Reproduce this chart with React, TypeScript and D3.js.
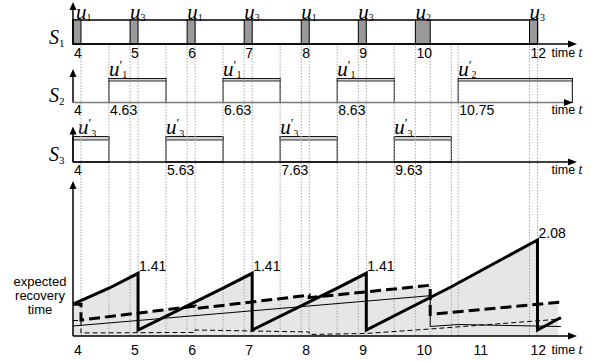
import React from "react";
import * as d3 from "d3";

// schedule rows (times in hours)
const S1_START = [4, 5, 6, 7, 8, 9, 10, 12];
const S1_END = [4.14, 5.14, 6.14, 7.14, 8.14, 9.14, 10.26, 12.14];
const S1_UNIT = ["1", "3", "1", "3", "1", "3", "2", "3"];
const S1_TICKS = [4, 5, 6, 7, 8, 9, 10, 12];

const S2_START = [4.63, 6.63, 8.63, 10.75];
const S2_END = [5.63, 7.63, 9.63, 12.75];
const S2_UNIT = ["1", "1", "1", "2"];
const S2_TICKS = [4, 4.63, 6.63, 8.63, 10.75];

const S3_START = [4, 5.63, 7.63, 9.63];
const S3_END = [4.63, 6.63, 8.63, 10.63];
const S3_UNIT = ["3", "3", "3", "3"];
const S3_TICKS = [4, 5.63, 7.63, 9.63];

const TIME_TICKS = [4, 5, 6, 7, 8, 9, 10, 11, 12];

// expected recovery time curves, [t, value]
const THICK_SOLID = [
  [4, 0.79], [4.63, 1.11], [5.14, 1.41], [5.14, 0.27], [6.63, 1.11], [7.14, 1.41],
  [7.14, 0.27], [8.63, 1.11], [9.14, 1.41], [9.14, 0.27], [10.63, 1.14],
  [12.14, 2.08], [12.14, 0.27], [12.55, 0.52],
];
const THICK_DASHED = [
  [4, 0.79], [4.14, 0.79], [4.14, 0.47], [6.14, 0.75], [6.14, 0.7], [8.14, 0.97],
  [8.14, 0.92], [10.26, 1.17], [10.26, 0.585], [12.55, 0.83],
];
const THIN_SOLID = [[4, 0.35], [10.26, 0.96], [10.26, 0.34], [10.75, 0.38], [12.55, 0.34]];
const THIN_DASHED = [
  [4, 0.46], [4.14, 0.46], [4.14, 0.21], [6.14, 0.22], [6.14, 0.27], [8.14, 0.23],
  [8.14, 0.18], [9.14, 0.2], [10.26, 0.29], [12.55, 0.49],
];
const SHADED = [
  [4, 0.79], [4.63, 1.11], [5.14, 1.41], [5.14, 0.61], [5.93, 0.72], [6.63, 1.11],
  [7.14, 1.41], [7.14, 0.83], [8.14, 0.97], [8.14, 0.92], [8.33, 0.94], [8.63, 1.11],
  [9.14, 1.41], [9.14, 1.04], [10.26, 1.17], [10.26, 0.92], [10.63, 1.14],
  [12.14, 2.08], [12.14, 0.79], [12.5, 0.82],
];
const PEAKS = [[5.14, 1.41], [7.14, 1.41], [9.14, 1.41], [12.14, 2.08]];

const SANS = "'Liberation Sans', Arial, sans-serif";
const SERIF = "'Liberation Serif', 'Times New Roman', serif";

const x = d3.scaleLinear().domain([4, 12]).range([73, 529.5]);
const y = d3.scaleLinear().domain([0, 2.08]).range([343.4, 240]);

const AX_END = 577;
const rows = {
  s1: { top: 20, base: 44, tip: 2, tickY: 57.5 },
  s2: { top: 78.5, band: 81, base: 102.5, tip: 69, tickY: 114.5 },
  s3: { top: 136.5, band: 140, base: 162, tip: 126.5, tickY: 174.5 },
  bot: { base: 336, tip: 181, tickY: 354.5 },
};

const gridTimes = Array.from(
  new Set([...S1_START, ...S1_END, ...S2_START, ...S2_END, ...S3_START, ...S3_END])
).filter(t => t > 4 && t <= 12.14).sort((a, b) => a - b);

const VArrow = ({ top, base, color = "#000" }) => (
  <g>
    <line x1={x(4)} x2={x(4)} y1={base} y2={top + 6} stroke={color} strokeWidth={1.5} />
    <path d={`M${x(4)},${top}L${x(4) - 3.5},${top + 8}L${x(4) + 3.5},${top + 8}Z`} fill={color} />
  </g>
);

const HArrow = ({ base, color = "#000", end = AX_END }) => (
  <g>
    <line x1={x(4)} x2={end - 6} y1={base} y2={base} stroke={color} strokeWidth={1.5} />
    <path d={`M${end},${base}L${end - 9},${base - 3.5}L${end - 9},${base + 3.5}Z`} fill="#000" />
  </g>
);

const TimeLabel = ({ yy }) => (
  <text x={551.5} y={yy} fontFamily={SANS} fontSize={12.5}>
    time <tspan fontFamily={SERIF} fontStyle="italic" fontSize={14}>t</tspan>
  </text>
);

const SLabel = ({ idx, base }) => (
  <text x={49} y={base} fontFamily={SERIF} fontStyle="italic" fontSize={20}>
    S<tspan dy={3.5} fontSize={11} fontStyle="normal">{idx}</tspan>
  </text>
);

// u with a subscript, optionally primed (u′)
const ULabel = ({ lx, ly, unit, prime = false }) => (
  <text x={lx} y={ly} fontFamily={SERIF} fontStyle="italic" fontSize={21}>
    u
    {prime ? (
      <>
        <tspan dy={-7} fontSize={13} fontStyle="normal">′</tspan>
        <tspan dy={9.5} fontSize={10} fontStyle="normal">{unit}</tspan>
      </>
    ) : (
      <tspan dy={2} fontSize={10} fontStyle="normal">{unit}</tspan>
    )}
  </text>
);

const Ticks = ({ ticks, yy }) => (
  <g fontFamily={SANS} fontSize={14}>
    {ticks.map(t => (
      <text key={t} x={x(t) + 1} y={yy}>{String(t)}</text>
    ))}
  </g>
);

const Boxes = ({ starts, ends, top, band, base, unit, labelY }) => (
  <g>
    {starts.map((s, i) => (
      <g key={s}>
        <rect x={x(s)} y={top} width={x(ends[i]) - x(s)} height={base - top}
          fill="#fff" stroke="#000" strokeWidth={1} />
        <rect x={x(s)} y={top} width={x(ends[i]) - x(s)} height={band - top}
          fill="#d4d4d4" stroke="#000" strokeWidth={0.8} />
        <ULabel lx={x(s) + (s === 4 ? 5 : 0)} ly={labelY} unit={unit[i]} prime />
      </g>
    ))}
  </g>
);

export default function App() {
  const line = d3.line<number[]>().x(d => x(d[0])).y(d => y(d[1]));
  const area = d3.area<number[]>().x(d => x(d[0])).y0(rows.bot.base).y1(d => y(d[1]));

  return (
    <svg width={611} height={362} viewBox="0 0 611 362"
      style={{ position: "absolute", left: 0, top: 0, background: "#fff" }}>
      <rect width={611} height={362} fill="#fff" />

      {/* shaded region of the bottom plot */}
      <path d={area(SHADED)} fill="#e6e6e6" />

      {/* S2 / S3 boxes go under the dotted guides */}
      <Boxes starts={S2_START} ends={S2_END} top={rows.s2.top} band={rows.s2.band}
        base={rows.s2.base} unit={S2_UNIT} labelY={75.5} />
      <Boxes starts={S3_START} ends={S3_END} top={rows.s3.top} band={rows.s3.band}
        base={rows.s3.base} unit={S3_UNIT} labelY={134} />

      {/* dotted guides */}
      <g stroke="#a8a8a8" strokeWidth={1} strokeDasharray="1.5,1.5">
        {gridTimes.map(t => (
          <line key={t} x1={x(t)} x2={x(t)} y1={rows.s1.base + 2} y2={rows.bot.base} />
        ))}
      </g>

      {/* S1 row */}
      <rect x={x(4)} y={rows.s1.top} width={x(12.14) - x(4)} height={rows.s1.base - rows.s1.top}
        fill="none" stroke="#000" strokeWidth={1.5} />
      {S1_START.map((s, i) => (
        <g key={s}>
          <rect x={x(s)} y={rows.s1.top} width={x(S1_END[i]) - x(s)} height={rows.s1.base - rows.s1.top}
            fill="#999" stroke="#000" strokeWidth={1} />
          <ULabel lx={x(s) + (s === 4 ? 3 : 0)} ly={18.5} unit={S1_UNIT[i]} />
        </g>
      ))}
      <VArrow top={rows.s1.tip} base={rows.s1.base} />
      <HArrow base={rows.s1.base} />
      <SLabel idx="1" base={43.5} />
      <Ticks ticks={S1_TICKS} yy={rows.s1.tickY} />
      <TimeLabel yy={rows.s1.tickY - 0.5} />

      {/* S2 row */}
      <VArrow top={rows.s2.tip} base={rows.s2.base} />
      <HArrow base={rows.s2.base} color="#7a7a7a" end={573} />
      <SLabel idx="2" base={101.5} />
      <Ticks ticks={S2_TICKS} yy={rows.s2.tickY} />
      <TimeLabel yy={rows.s2.tickY - 1} />

      {/* S3 row */}
      <VArrow top={rows.s3.tip} base={rows.s3.base} />
      <HArrow base={rows.s3.base} />
      <SLabel idx="3" base={160.5} />
      <Ticks ticks={S3_TICKS} yy={rows.s3.tickY} />
      <TimeLabel yy={rows.s3.tickY - 1} />

      {/* expected recovery time curves */}
      <g fill="none" stroke="#000" strokeLinejoin="miter">
        <path d={line(THIN_DASHED)} strokeWidth={1} strokeDasharray="5,3" />
        <path d={line(THIN_SOLID)} strokeWidth={1} />
        <path d={line(THICK_DASHED)} strokeWidth={3} strokeDasharray="11,5" />
        <path d={line(THICK_SOLID)} strokeWidth={3} />
      </g>
      <g fontFamily={SANS} fontSize={14}>
        {PEAKS.map(([t, v]) => (
          <text key={t} x={x(t) + 1} y={y(v) - 2}>{v.toFixed(2)}</text>
        ))}
      </g>

      <VArrow top={rows.bot.tip} base={rows.bot.base} />
      <HArrow base={rows.bot.base} />
      <Ticks ticks={TIME_TICKS} yy={rows.bot.tickY} />
      <TimeLabel yy={rows.bot.tickY - 0.5} />

      <g fontFamily={SANS} fontSize={13} textAnchor="middle">
        <text x={40} y={286}>expected</text>
        <text x={40} y={300}>recovery</text>
        <text x={40} y={313.5}>time</text>
      </g>
    </svg>
  );
}
